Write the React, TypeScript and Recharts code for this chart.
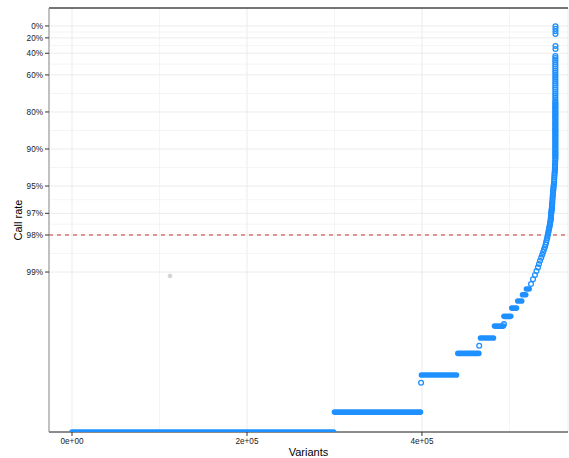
import React from 'react';
import { ScatterChart, Scatter, XAxis, YAxis, CartesianGrid, ReferenceLine, Label } from 'recharts';

const FONT = '"Liberation Sans", Arial, Helvetica, sans-serif';
const BLUE = '#1E90FF';

// number of samples per variant (missing count -> call rate)
const nSamples = 1375;

// Y axis: call-rate tick values (%) and labels
const yTickCallRates = [0, 20, 40, 60, 80, 90, 95, 97, 98, 99];
const yTickLabels = ['0%', '20%', '40%', '60%', '80%', '90%', '95%', '97%', '98%', '99%'];
// X axis ticks
const xTicks = [0, 200000, 400000];
const xTickLabels = ['0e+00', '2e+05', '4e+05'];
const xMinorTicks = [100000, 300000, 500000];
const thresholdCallRate = 98;

// dense bands: missing count, first and last variant index
const bandMissing = [0, 1, 2, 3, 4, 5, 6, 7, 8, 9, 10];
const bandStart = [0, 300000, 399400, 441000, 466900, 482900, 493700, 502600, 509500, 514900, 519400];
const bandEnd = [299000, 398300, 439400, 465000, 481700, 493100, 501500, 508000, 514000, 518600, 522500];

// curved tail: missing count and variant index (thousands)
const tailMissing = [
  11, 12, 13, 14, 15, 16, 17, 18, 19, 20, 21, 22, 23, 24, 25, 26, 27, 28, 29, 30, 31, 32, 33, 34, 35,
  36, 37, 38, 39, 40, 41, 42, 43, 44, 45, 46, 47, 48, 49, 50, 52, 54, 56, 58, 60, 62, 64, 66, 68, 70,
  72, 75, 78, 81, 84, 87, 90, 93, 96, 99, 102, 106, 110,
];
const tailVariantK = [
  524.6, 526.9, 529.1, 530.9, 532.6, 533.7, 534.9, 536.3, 537.5, 538.5, 539.5, 540.6, 541.3, 541.9, 542.5, 543.1, 543.5, 544.0, 544.5, 544.9, 545.3, 545.7, 546.1, 546.4, 546.6,
  547.0, 547.15, 547.3, 547.4, 547.5, 547.7, 547.9, 548.05, 548.2, 548.35, 548.5, 548.6, 548.7, 548.8, 548.9, 549.05, 549.2, 549.4, 549.55, 549.7, 549.9, 550.1, 550.25, 550.4, 550.6,
  550.8, 551.0, 551.15, 551.3, 551.4, 551.55, 551.75, 551.9, 552.0, 552.05, 552.1, 552.2, 552.3,
];

// near-vertical column at the far right: missing counts, common variant index
const columnMissing = [
  114, 117, 120, 123, 126, 129, 132, 136, 139, 143, 146, 150, 154, 158, 162, 166, 170, 174, 179, 183,
  188, 193, 197, 202, 207, 213, 218, 224, 229, 235, 241, 247, 253, 259, 266, 272, 279, 286, 293, 301,
  308, 316, 324, 332, 344, 358, 372, 387, 402, 418, 435, 452, 470, 489, 509, 529, 550, 572, 595, 619,
  644, 670, 697, 725, 754, 784,
];
const columnVariant = 552450;

// sparse points at the very top
const topMissing = [894, 946, 1183, 1245, 1306, 1367];
const topVariant = 552600;

// isolated off-level points (call rate %, variant index)
const offCallRate = [99.874, 99.748, 99.623];
const offVariant = [399000, 465400, 493700];

// faint grey point
const greyCallRate = [99.07];
const greyVariant = [112000];

// transformed scale: -log10(1 - call rate)
const Y_TOP = -0.146;
const Y_BOTTOM = 3.3;
const toT = (pct: number) => {
  const m = 1 - pct / 100;
  return m <= 0 ? Y_BOTTOM : -Math.log10(m);
};
const crFromMissing = (k: number) => 100 * (1 - k / nSamples);

const yTickT = yTickCallRates.map(toT);
const yMinorT = yTickT.slice(1).map((t, i) => (t + yTickT[i]) / 2);

const fmtY = (v: number) => {
  const i = yTickT.findIndex((t) => Math.abs(t - v) < 1e-6);
  return i >= 0 ? yTickLabels[i] : '';
};
const fmtX = (v: number) => {
  const i = xTicks.indexOf(v);
  return i >= 0 ? xTickLabels[i] : '';
};

const tailData = [
  ...tailMissing.map((k, i) => ({ x: tailVariantK[i] * 1000, t: toT(crFromMissing(k)) })),
  ...columnMissing.map((k) => ({ x: columnVariant, t: toT(crFromMissing(k)) })),
  ...topMissing.map((k) => ({ x: topVariant, t: toT(crFromMissing(k)) })),
];
const offData = offCallRate.map((c, i) => ({ x: offVariant[i], t: toT(c) }));
const greyData = greyCallRate.map((c, i) => ({ x: greyVariant[i], t: toT(c) }));

const OpenCircle = (props: any) => (
  <circle cx={props.cx} cy={props.cy} r={2.4} fill="none" stroke={BLUE} strokeWidth={1.3} />
);
const GreyDot = (props: any) => (
  <circle cx={props.cx} cy={props.cy} r={2.2} fill="#d4d4d4" stroke="#dcdcdc" strokeWidth={0.5} />
);
const NoShape = () => <g />;

const YLabel = (props: any) => {
  const vb = props.viewBox || { x: 0, y: 8, width: 49, height: 424 };
  const cx = vb.x + 21.5;
  const cy = vb.y + vb.height / 2;
  return (
    <text x={cx} y={cy} transform={`rotate(-90 ${cx} ${cy})`} textAnchor="middle" fontSize={11} fontFamily={FONT} fill="#000">
      Call rate
    </text>
  );
};

const tickStyle = { fontSize: 8.2, fill: '#222', fontFamily: FONT };

export default function App() {
  return (
    <div style={{ position: 'absolute', left: 0, top: 0, width: 569, height: 458, background: '#fff' }}>
      <ScatterChart width={569} height={458} margin={{ top: 8, right: 1, bottom: 0, left: 0 }}>
        <CartesianGrid stroke="#ebebeb" strokeWidth={1} />
        {yMinorT.map((t, i) => (
          <ReferenceLine key={'ym' + i} y={t} stroke="#f1f1f1" strokeWidth={0.8} />
        ))}
        {xMinorTicks.map((x, i) => (
          <ReferenceLine key={'xm' + i} x={x} stroke="#f1f1f1" strokeWidth={0.8} />
        ))}
        <XAxis
          type="number"
          dataKey="x"
          domain={[-26300, 566900]}
          allowDataOverflow
          ticks={xTicks}
          interval={0}
          tickFormatter={fmtX}
          height={26}
          tick={tickStyle}
          tickSize={4}
          tickMargin={2}
          axisLine={{ stroke: '#222', strokeWidth: 1 }}
          tickLine={{ stroke: '#333' }}
        >
          <Label value="Variants" position="insideBottom" offset={2} style={{ fontSize: 11, fill: '#000', fontFamily: FONT }} />
        </XAxis>
        <YAxis
          type="number"
          dataKey="t"
          domain={[Y_TOP, Y_BOTTOM]}
          reversed
          allowDataOverflow
          ticks={yTickT}
          interval={0}
          tickFormatter={fmtY}
          width={49}
          tick={tickStyle}
          tickSize={4}
          tickMargin={2}
          axisLine={{ stroke: '#8c8c8c', strokeWidth: 1 }}
          tickLine={{ stroke: '#333' }}
        >
          <Label content={YLabel} />
        </YAxis>
        <ReferenceLine y={Y_TOP} stroke="#4a4a4a" strokeWidth={1.4} />
        <Scatter data={greyData} shape={GreyDot} isAnimationActive={false} />
        {bandMissing.map((k, i) => (
          <Scatter
            key={'b' + i}
            data={[
              { x: bandStart[i], t: toT(crFromMissing(k)) },
              { x: bandEnd[i], t: toT(crFromMissing(k)) },
            ]}
            line={{ stroke: BLUE, strokeWidth: 5.6, strokeLinecap: 'round' } as any}
            shape={NoShape}
            fill={BLUE}
            isAnimationActive={false}
          />
        ))}
        <Scatter data={offData} shape={OpenCircle} isAnimationActive={false} />
        <Scatter data={tailData} shape={OpenCircle} isAnimationActive={false} />
        <ReferenceLine y={toT(thresholdCallRate)} stroke="#cc3a35" strokeWidth={1} strokeDasharray="4 4" />
      </ScatterChart>
    </div>
  );
}
